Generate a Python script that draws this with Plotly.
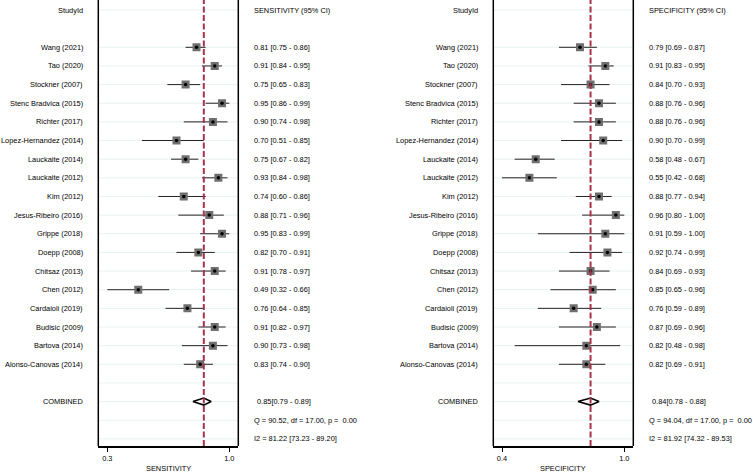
import plotly.graph_objects as go

studies = ["Wang (2021)", "Tao (2020)", "Stockner (2007)", "Stenc Bradvica (2015)",
           "Richter (2017)", "Lopez-Hernandez (2014)", "Lauckaite (2014)", "Lauckaite (2012)",
           "Kim (2012)", "Jesus-Ribeiro (2016)", "Grippe (2018)", "Doepp (2008)",
           "Chitsaz (2013)", "Chen (2012)", "Cardaioli (2019)", "Budisic (2009)",
           "Bartova (2014)", "Alonso-Canovas (2014)"]

sens = [0.81, 0.91, 0.75, 0.95, 0.90, 0.70, 0.75, 0.93, 0.74, 0.88, 0.95, 0.82, 0.91, 0.49, 0.76, 0.91, 0.90, 0.83]
sens_lo = [0.75, 0.84, 0.65, 0.86, 0.74, 0.51, 0.67, 0.84, 0.60, 0.71, 0.83, 0.70, 0.78, 0.32, 0.64, 0.82, 0.73, 0.74]
sens_hi = [0.86, 0.95, 0.83, 0.99, 0.98, 0.85, 0.82, 0.98, 0.86, 0.96, 0.99, 0.91, 0.97, 0.66, 0.85, 0.97, 0.98, 0.90]

spec = [0.79, 0.91, 0.84, 0.88, 0.88, 0.90, 0.58, 0.55, 0.88, 0.96, 0.91, 0.92, 0.84, 0.85, 0.76, 0.87, 0.82, 0.82]
spec_lo = [0.69, 0.83, 0.70, 0.76, 0.76, 0.70, 0.48, 0.42, 0.77, 0.80, 0.59, 0.74, 0.69, 0.65, 0.59, 0.69, 0.48, 0.69]
spec_hi = [0.87, 0.95, 0.93, 0.96, 0.96, 0.99, 0.67, 0.68, 0.94, 1.00, 1.00, 0.99, 0.93, 0.96, 0.89, 0.96, 0.98, 0.91]

sens_pooled = [0.85, 0.79, 0.89]
spec_pooled = [0.84, 0.78, 0.88]

sens_q = "Q = 90.52, df = 17.00, p =  0.00"
sens_i2 = "I2 = 81.22 [73.23 - 89.20]"
spec_q = "Q = 94.04, df = 17.00, p =  0.00"
spec_i2 = "I2 = 81.92 [74.32 - 89.53]"

W, H = 753, 475
FONT = "Liberation Sans, Arial, Helvetica, sans-serif"
FS = 7.4
TXT = "#000000"

ROW0 = 10.0
ROWH = 18.647
bottom_px = 446.0
ytop = (0 - ROW0) / ROWH
ybot = (bottom_px - ROW0) / ROWH
ydom0 = 1 - bottom_px / H

first_row = 2
rows = [first_row + i for i in range(len(studies))]
comb_row = first_row + len(studies) + 1
q_row = comb_row + 1
i2_row = comb_row + 2

panels = [
    dict(xa="x", est=sens, lo=sens_lo, hi=sens_hi, pooled=sens_pooled,
         frame=(98.3, 238.3), lab_r=84.5, ci_l=251.7, head="SENSITIVITY (95% CI)",
         title="SENSITIVITY", q=sens_q, i2=sens_i2, pad=(9.0, 9.0)),
    dict(xa="x2", est=spec, lo=spec_lo, hi=spec_hi, pooled=spec_pooled,
         frame=(493.3, 633.3), lab_r=479.8, ci_l=647.0, head="SPECIFICITY (95% CI)",
         title="SPECIFICITY", q=spec_q, i2=spec_i2, pad=(8.7, 9.0)),
]

fig = go.Figure()
shapes = []
annotations = []
layout_axes = {}

for k, p in enumerate(panels):
    xa = p["xa"]
    axname = "xaxis" if xa == "x" else "xaxis2"
    tmin = min(p["lo"])
    tmax = max(p["hi"])
    tpx0 = p["frame"][0] + p["pad"][0]
    tpx1 = p["frame"][1] - p["pad"][1]
    scale = (tpx1 - tpx0) / (tmax - tmin)
    r0 = tmin - p["pad"][0] / scale
    r1 = tmax + p["pad"][1] / scale

    layout_axes[axname] = dict(
        domain=[p["frame"][0] / W, p["frame"][1] / W],
        range=[r0, r1], anchor="y", automargin=False,
        showgrid=False, zeroline=False,
        showline=True, linecolor="black", linewidth=1.5,
        ticks="outside", ticklen=4, tickwidth=1, tickcolor="black",
        tickvals=[tmin, tmax], ticktext=[f"{tmin:.1f}", f"{tmax:.1f}"],
        tickfont=dict(family=FONT, size=FS, color=TXT),
    )

    dref = xa + " domain"
    for r in [0] + list(range(first_row, i2_row + 1)):
        shapes.append(dict(type="line", xref=dref, yref="y", x0=0, x1=1, y0=r, y1=r,
                           line=dict(color="#e9f1f2", width=1), layer="below"))
    for xd in (0, 1):
        shapes.append(dict(type="line", xref=dref, yref="paper", x0=xd, x1=xd,
                           y0=ydom0, y1=1, line=dict(color="black", width=1.5)))
    shapes.append(dict(type="line", xref=xa, yref="paper", x0=p["pooled"][0], x1=p["pooled"][0],
                       y0=ydom0, y1=1, line=dict(color="#a8324a", width=2, dash="6px,2.5px"),
                       layer="above"))

    lx, ly = [], []
    for lo, hi, r in zip(p["lo"], p["hi"], rows):
        lx += [lo, hi, None]
        ly += [r, r, None]
    fig.add_trace(go.Scatter(x=lx, y=ly, xaxis=xa, yaxis="y", mode="lines",
                             line=dict(color="#222222", width=1), hoverinfo="skip",
                             showlegend=False))
    fig.add_trace(go.Scatter(x=p["est"], y=rows, xaxis=xa, yaxis="y", mode="markers",
                             marker=dict(symbol="square", size=8, color="#6f6f6f",
                                         line=dict(width=0)), showlegend=False))
    fig.add_trace(go.Scatter(x=p["est"], y=rows, xaxis=xa, yaxis="y", mode="markers",
                             marker=dict(symbol="circle", size=3.5, color="black",
                                         line=dict(width=0)), showlegend=False))
    est, lo, hi = p["pooled"]
    h = 0.19
    fig.add_trace(go.Scatter(x=[lo, est, hi, est, lo], y=[comb_row, comb_row - h, comb_row, comb_row + h, comb_row],
                             xaxis=xa, yaxis="y", mode="lines", fill="toself", fillcolor="white",
                             line=dict(color="black", width=1.6), showlegend=False))

    def ann(x_px, row, text, anchor):
        annotations.append(dict(x=x_px / W, xref="paper", y=row, yref="y", text=text,
                                xanchor=anchor, yanchor="middle", showarrow=False,
                                font=dict(family=FONT, size=FS, color=TXT)))

    ann(p["lab_r"], 0, "StudyId", "right")
    ann(p["ci_l"], 0, p["head"], "left")
    for s, e, l, hh, r in zip(studies, p["est"], p["lo"], p["hi"], rows):
        ann(p["lab_r"], r, s, "right")
        ann(p["ci_l"], r, f"{e:.2f} [{l:.2f} - {hh:.2f}]", "left")
    ann(p["lab_r"], comb_row, "COMBINED", "right")
    ann(p["ci_l"] + 3, comb_row, f"{est:.2f}[{lo:.2f} - {hi:.2f}]", "left")
    ann(p["ci_l"], q_row, p["q"], "left")
    ann(p["ci_l"], i2_row, p["i2"], "left")
    annotations.append(dict(x=(p["frame"][0] + p["frame"][1]) / 2 / W, xref="paper",
                            y=1 - 468.5 / H, yref="paper", text=p["title"],
                            xanchor="center", yanchor="middle", showarrow=False,
                            font=dict(family=FONT, size=FS, color=TXT)))

fig.update_layout(
    width=W, height=H,
    margin=dict(l=0, r=0, t=0, b=0),
    paper_bgcolor="white", plot_bgcolor="white",
    template="none",
    showlegend=False,
    yaxis=dict(domain=[ydom0, 1], range=[ybot, ytop], visible=False, automargin=False,
               showgrid=False, zeroline=False, anchor="x"),
    shapes=shapes, annotations=annotations,
    **layout_axes,
)

fig.write_html("out.html", config={"displayModeBar": False},
               post_script="document.body.style.margin='0';document.body.style.padding='0';document.body.style.overflow='hidden';")
